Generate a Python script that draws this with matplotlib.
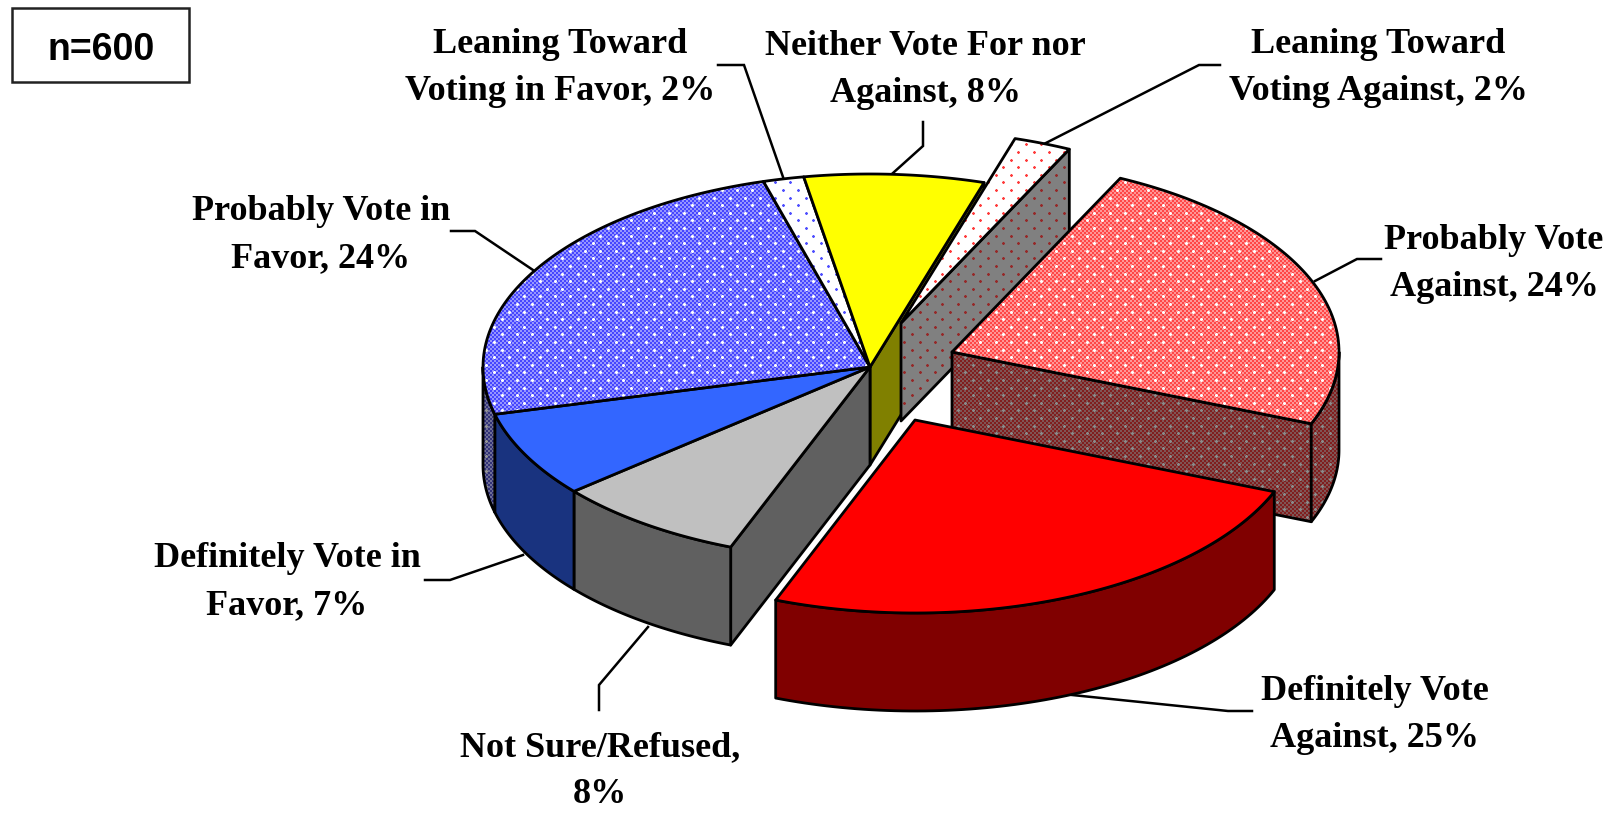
import numpy as np
from matplotlib import pyplot as plt
from matplotlib.patches import Polygon, Rectangle

# clockwise from the Not Sure slice; labels are rounded, angles read off the picture
names = ["Not Sure/Refused,\n8%", "Definitely Vote in\nFavor, 7%", "Probably Vote in\nFavor, 24%",
         "Leaning Toward\nVoting in Favor, 2%", "Neither Vote For nor\nAgainst, 8%",
         "Leaning Toward\nVoting Against, 2%", "Probably Vote\nAgainst, 24%", "Definitely Vote\nAgainst, 25%"]
values = [8.0, 7.2, 24.5, 1.7, 7.5, 2.4, 23.9, 24.8]
pull_x = [0, 0, 0, 0, 0, 31, 82, 45]
pull_y = [0, 0, 0, 0, 0, -44, -15, 53]

label_x = [600, 287, 321, 560, 925, 1378, 1494, 1375]
label_y = [771, 582, 235, 68, 70, 68, 264, 715]
leaders = [[(648, 627), (599, 685), (599, 710)],
           [(523, 555), (450, 580), (425, 580)],
           [(533, 270), (475, 231), (451, 231)],
           [(783, 177), (744, 65), (718, 65)],
           [(893, 173), (923, 146), (923, 122)],
           [(1040, 146), (1199, 65), (1220, 65)],
           [(1315, 281), (1357, 259), (1381, 259)],
           [(1072, 695), (1228, 711), (1252, 711)]]

W, H = 1616, 817
CX, CY = 870, 367
A, B = 387, 193
DEPTH = 98
START = 201.1


def pattern(col_a, col_b, core, halo):
    # pixel checker with a staggered grid of small dots
    yy, xx = np.mgrid[0:H, 0:W]
    img = np.where((((xx // 2 + yy // 2) % 2) == 0)[..., None], np.array(col_a), np.array(col_b)).astype(float)
    for i in range(int(H / 7.6) + 2):
        y = int(round(i * 7.6))
        for j in range(int(W / 15.2) + 2):
            x = int(round((j + (i % 2) / 2) * 15.2))
            for dx, dy, c in [(0, 0, core), (-1, 0, core), (1, 0, core), (0, -1, core), (0, 1, core),
                              (-1, -1, halo), (1, -1, halo), (-1, 1, halo), (1, 1, halo)]:
                if 0 <= y + dy < H and 0 <= x + dx < W:
                    img[y + dy, x + dx] = c
    return img.astype(np.uint8)


white = (255, 255, 255)
blue_top = pattern((70, 70, 255), (150, 150, 255), white, (190, 190, 255))
blue_side = pattern((50, 50, 120), (110, 110, 150), (150, 150, 150), (100, 100, 130))
lean_blue = pattern(white, white, (80, 80, 255), (190, 190, 255))
pink_top = pattern((255, 70, 70), (255, 150, 150), white, (255, 190, 190))
pink_side = pattern((128, 30, 30), (128, 85, 85), (140, 140, 140), (125, 90, 90))
lean_red = pattern(white, white, (255, 60, 60), (255, 190, 190))
lean_side = pattern((128, 128, 128), (128, 128, 128), (150, 40, 40), (135, 95, 95))

top_fill = ["#C0C0C0", "#3366FF", blue_top, lean_blue, "#FFFF00", lean_red, pink_top, "#FF0000"]
side_fill = ["#606060", "#19337F", blue_side, blue_side, "#808000", lean_side, pink_side, "#800000"]

fig = plt.figure(figsize=(W / 100, H / 100), dpi=100)
ax = fig.add_axes([0, 0, 1, 1])
z = [10]


def face(pts, fill):
    z[0] += 1
    if isinstance(fill, str):
        ax.add_patch(Polygon(pts, closed=True, facecolor=fill, edgecolor="black", lw=2.0, zorder=z[0], joinstyle="round"))
        return
    outline = Polygon(pts, closed=True, facecolor="none", edgecolor="black", lw=2.0, zorder=z[0] + 1, joinstyle="round")
    ax.add_patch(outline)
    im = ax.imshow(fill, extent=(0, W, H, 0), interpolation="nearest", aspect="auto", zorder=z[0])
    im.set_clip_path(outline)
    z[0] += 1


def ring(cx, cy, t0, t1):
    t = np.radians(np.linspace(t0, t1, 80))
    return np.column_stack([cx + A * np.sin(t), cy - B * np.cos(t)])


def wall(cx, cy, t0, t1, fill):
    # outer rim, only the part that faces the viewer
    t0, t1 = max(t0, 90), min(t1, 270)
    if t1 > t0:
        arc = ring(cx, cy, t0, t1)
        face(np.vstack([arc, arc[::-1] + [0, DEPTH]]), fill)


def cut(cx, cy, t, fill):
    p = ring(cx, cy, t, t)[0]
    face([(cx, cy), p, p + [0, DEPTH], (cx, cy + DEPTH)], fill)


angles = START + np.cumsum([0] + values) * 3.6
n_main = 5

# slices that stay in the pie
cut(CX, CY, angles[n_main] % 360, side_fill[4])
cut(CX, CY, angles[0], side_fill[0])
for i in range(n_main):
    wall(CX, CY, angles[i], angles[i + 1], side_fill[i])
for i in range(n_main):
    arc = ring(CX, CY, angles[i], angles[i + 1])
    face(np.vstack([[(CX, CY)], arc]), top_fill[i])

# pulled out slices, back to front
for i in [5, 6, 7]:
    cx = CX + pull_x[i]
    cy = CY + pull_y[i]
    t0, t1 = angles[i] % 360, angles[i + 1] % 360
    if t1 < t0:
        t1 += 360
    if i != 7:
        cut(cx, cy, t1, side_fill[i])
    wall(cx, cy, t0, t1, side_fill[i])
    arc = ring(cx, cy, t0, t1)
    face(np.vstack([[(cx, cy)], arc]), top_fill[i])

for name, lx, ly, pts in zip(names, label_x, label_y, leaders):
    xs, ys = zip(*pts)
    ax.plot(xs, ys, color="black", lw=1.8, zorder=5, solid_joinstyle="miter")
    ax.text(lx, ly, name, ha="center", va="center", family="Liberation Serif", weight="bold",
            fontsize=26, linespacing=1.56, color="black", zorder=100)

ax.add_patch(Rectangle((12, 8), 177, 74, facecolor="white", edgecolor="#222222", lw=1.8, zorder=50))
ax.text(101, 50, "n=600", ha="center", va="center", family="Liberation Sans", weight="bold",
        fontsize=27, zorder=51)

ax.set_xlim(0, W)
ax.set_ylim(H, 0)
ax.axis("off")
fig.savefig("out.png", dpi=100, facecolor="white")
